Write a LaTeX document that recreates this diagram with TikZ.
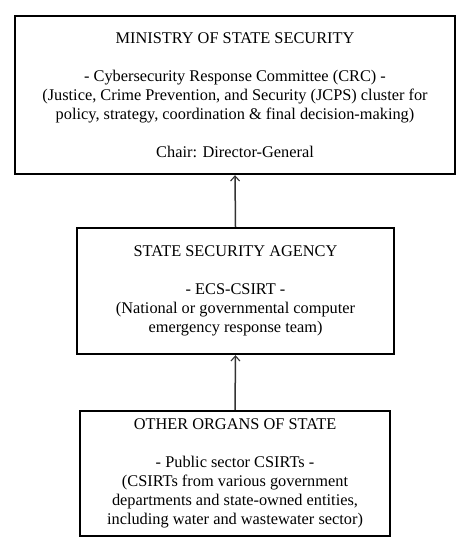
\documentclass[tikz,border=0pt]{standalone}
\usepackage{fontspec}
\setmainfont{Liberation Serif}
\usetikzlibrary{arrows.meta}
\tikzset{
  orgbox/.style={draw=black, line width=2.4bp, align=center, inner sep=0pt,
    font=\fontsize{16.4}{19}\selectfont},
  uparrow/.style={draw=black!80, line width=1.5bp, -{Straight Barb[length=5bp,width=9bp,line width=1.1bp]}}
}
\begin{document}
\begin{tikzpicture}[x=1bp,y=-1bp]
\useasboundingbox (0,0) rectangle (473,550);
\node[orgbox, minimum width=440bp, minimum height=158bp] (min) at (235,95)
 {MINISTRY OF STATE SECURITY\\[19bp]
  - Cybersecurity Response Committee (CRC) -\\
  (Justice, Crime Prevention, and Security (JCPS) cluster for\\
  policy, strategy, coordination \& final decision-making)\\[19bp]
  Chair: Director-General};
\node[orgbox, minimum width=317bp, minimum height=126bp] (ssa) at (235.5,291)
 {STATE SECURITY AGENCY\\[19bp]
  - ECS-CSIRT -\\
  (National or governmental computer\\
  emergency response team)};
\node[orgbox, minimum width=310bp, minimum height=125bp] (oos) at (235,473.5)
 {OTHER ORGANS OF STATE\\[19bp]
  - Public sector CSIRTs -\\
  (CSIRTs from various government\\
  departments and state-owned entities,\\
  including water and wastewater sector)};
\draw[uparrow] (ssa.north) -- (min.south);
\draw[uparrow] (oos.north) -- (ssa.south);
\end{tikzpicture}
\end{document}
